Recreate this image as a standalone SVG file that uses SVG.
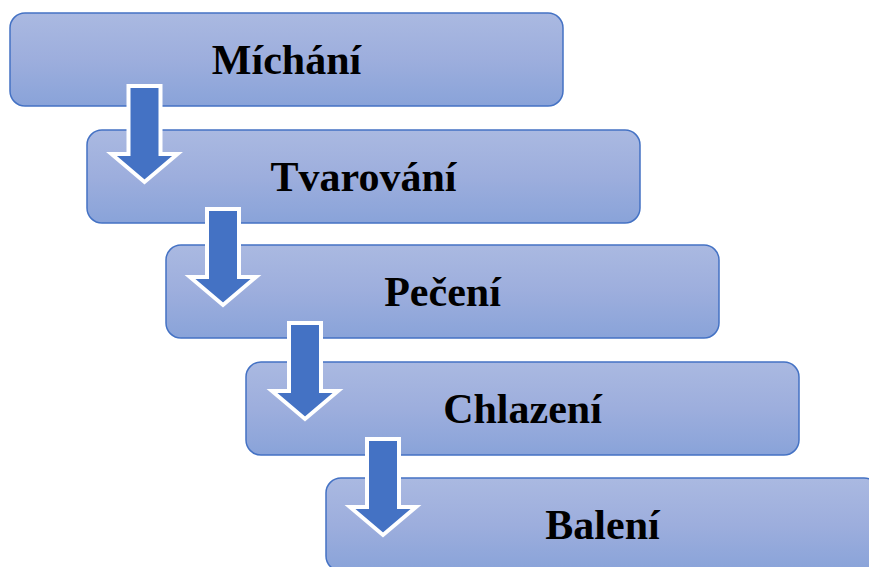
<svg xmlns="http://www.w3.org/2000/svg" width="869" height="567" viewBox="0 0 869 567">
  <defs>
    <linearGradient id="boxGrad" x1="0" y1="0" x2="0" y2="1">
      <stop offset="0" stop-color="#AAB9E1"/>
      <stop offset="0.5" stop-color="#9DAEDD"/>
      <stop offset="1" stop-color="#89A3D9"/>
    </linearGradient>
    <polygon id="downArrow" points="-16,2 16,2 16,70 33,70 0,98 -33,70 -16,70"/>
  </defs>
  <style>
    .box { fill: url(#boxGrad); stroke: #4472C4; stroke-width: 1.5; }
    .label { font-family: "Liberation Serif", "Times New Roman", serif; font-weight: bold; font-size: 42px; fill: #000000; text-anchor: middle; }
    .arrow { fill: #4472C4; stroke: #FFFFFF; stroke-width: 4; stroke-linejoin: miter; stroke-miterlimit: 10; }
  </style>
  <rect width="869" height="567" fill="#FFFFFF"/>
  <g id="node-michani">
    <rect class="box" x="10" y="13" width="553" height="93" rx="15" ry="15"/>
    <text class="label" x="286.5" y="74">Míchání</text>
  </g>
  <g id="node-tvarovani">
    <rect class="box" x="87" y="130" width="553" height="93" rx="15" ry="15"/>
    <text class="label" x="363.5" y="191">Tvarování</text>
  </g>
  <g id="node-peceni">
    <rect class="box" x="166" y="245" width="553" height="93" rx="15" ry="15"/>
    <text class="label" x="442.5" y="306">Pečení</text>
  </g>
  <g id="node-chlazeni">
    <rect class="box" x="246" y="362" width="553" height="93" rx="15" ry="15"/>
    <text class="label" x="522.5" y="423">Chlazení</text>
  </g>
  <g id="node-baleni">
    <rect class="box" x="326" y="478" width="553" height="93" rx="15" ry="15"/>
    <text class="label" x="602.5" y="539">Balení</text>
  </g>
  <g id="connectors">
    <use class="arrow" href="#downArrow" transform="translate(144.5,84)"/>
    <use class="arrow" href="#downArrow" transform="translate(223,207)"/>
    <use class="arrow" href="#downArrow" transform="translate(305,321)"/>
    <use class="arrow" href="#downArrow" transform="translate(383,437)"/>
  </g>
</svg>
